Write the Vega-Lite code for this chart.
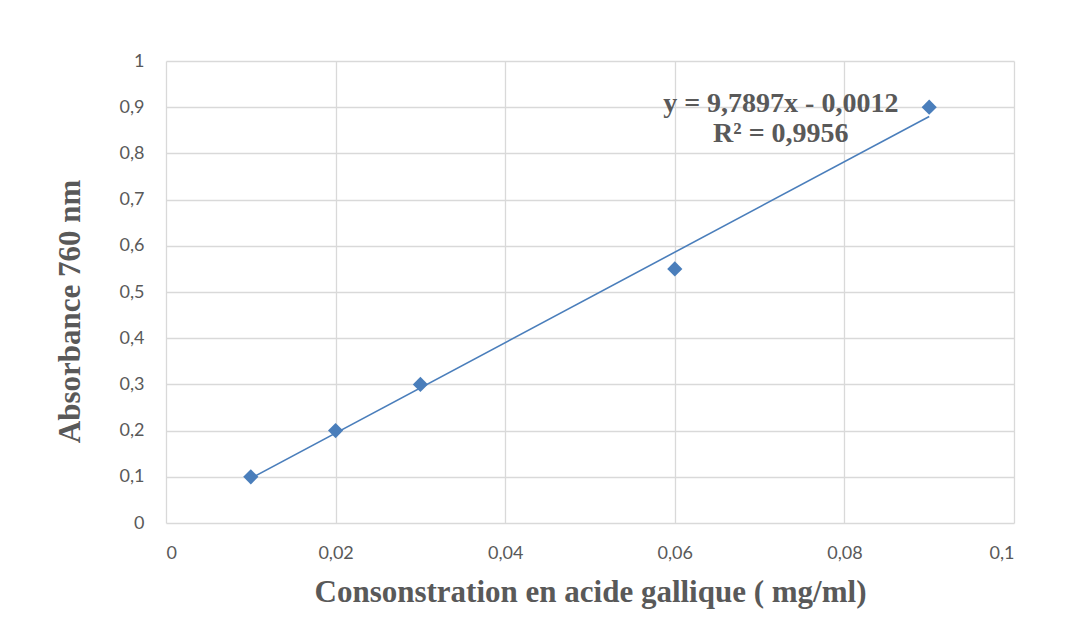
{
  "$schema": "https://vega.github.io/schema/vega-lite/v6.json",
  "autosize": "none",
  "width": 848,
  "height": 462,
  "padding": {"left": 166, "top": 61, "right": 73, "bottom": 105},
  "background": "white",
  "config": {
    "view": {"stroke": null},
    "axis": {
      "labelFont": "Lato",
      "labelFontSize": 18,
      "labelColor": "#595959",
      "gridColor": "#d9d9d9",
      "gridWidth": 1.3,
      "domain": false,
      "ticks": false,
      "titleFont": "Liberation Serif",
      "titleFontWeight": "bold",
      "titleFontSize": 31,
      "titleColor": "#595959"
    }
  },
  "datasets": {
    "points": [
      {"c": 0.01, "a": 0.1},
      {"c": 0.02, "a": 0.2},
      {"c": 0.03, "a": 0.3},
      {"c": 0.06, "a": 0.55},
      {"c": 0.09, "a": 0.9}
    ],
    "trend": [
      {"c": 0.01, "a": 0.0967},
      {"c": 0.09, "a": 0.8799}
    ],
    "labels": [
      {"c": 0.0725, "a": 0.908, "t": "y = 9,7897x - 0,0012"},
      {"c": 0.0725, "a": 0.843, "t": "R² = 0,9956"}
    ]
  },
  "layer": [
    {
      "data": {"name": "trend"},
      "mark": {"type": "line", "color": "#4a7ebb", "strokeWidth": 1.6},
      "encoding": {
        "x": {
          "field": "c", "type": "quantitative",
          "scale": {"domain": [0, 0.1], "nice": false, "zero": true},
          "axis": {
            "values": [0, 0.02, 0.04, 0.06, 0.08, 0.1],
            "format": "~g",
            "labelExpr": "replace(datum.label, '.', ',')",
            "labelPadding": 21,
            "title": "Consonstration en acide gallique ( mg/ml)",
            "titlePadding": 15
          }
        },
        "y": {
          "field": "a", "type": "quantitative",
          "scale": {"domain": [0, 1], "nice": false},
          "axis": {
            "values": [0, 0.1, 0.2, 0.3, 0.4, 0.5, 0.6, 0.7, 0.8, 0.9, 1],
            "format": "~g",
            "labelExpr": "replace(datum.label, '.', ',')",
            "labelPadding": 22,
            "title": "Absorbance 760 nm",
            "titlePadding": 33,
            "titleY": 250
          }
        }
      }
    },
    {
      "data": {"name": "points"},
      "mark": {"type": "point", "shape": "diamond", "filled": true, "color": "#4a7ebb", "opacity": 1, "size": 230},
      "encoding": {
        "x": {"field": "c", "type": "quantitative"},
        "y": {"field": "a", "type": "quantitative"}
      }
    },
    {
      "data": {"name": "labels"},
      "mark": {"type": "text", "font": "Liberation Serif", "fontWeight": "bold", "fontSize": 28, "color": "#595959", "align": "center", "baseline": "middle"},
      "encoding": {
        "x": {"field": "c", "type": "quantitative"},
        "y": {"field": "a", "type": "quantitative"},
        "text": {"field": "t"}
      }
    }
  ]
}
